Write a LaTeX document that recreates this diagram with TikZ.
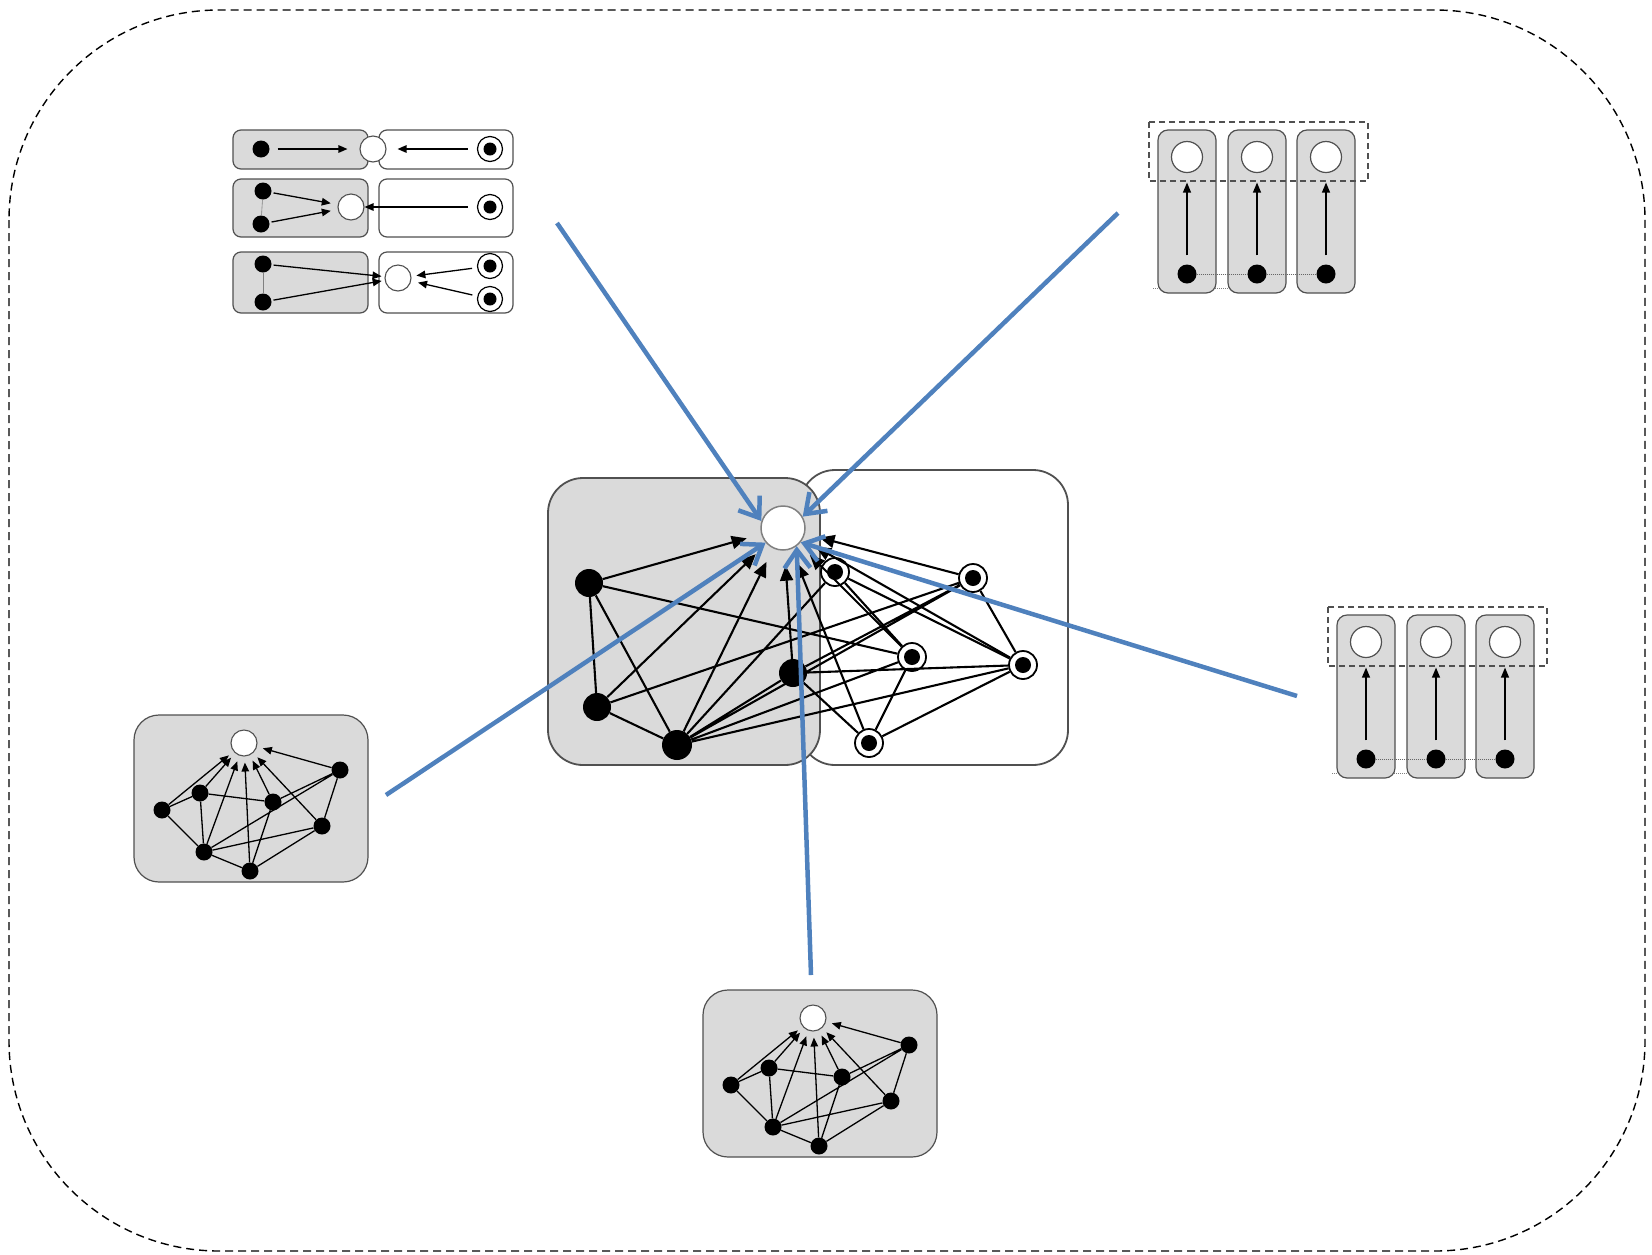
\documentclass[tikz,border=0pt]{standalone}
\usetikzlibrary{arrows.meta}
\definecolor{boxgrey}{RGB}{218,218,218}
\definecolor{edgegrey}{RGB}{80,80,80}
\definecolor{blueline}{RGB}{79,129,189}
\begin{document}
\begin{tikzpicture}[x=1pt,y=-1pt,
  cbox/.style={draw=edgegrey, line width=1.8pt, rounded corners=35pt},
  sbox/.style={draw=edgegrey, line width=1.2pt, rounded corners=8pt},
  bnode/.style={circle, fill=black, inner sep=0pt, minimum size=28pt},
  rnode/.style={circle, draw=black, line width=1.8pt, fill=white, inner sep=0pt, minimum size=28pt,
     path picture={\fill[black] (path picture bounding box.center) circle[radius=8pt];}},
  onode/.style={circle, draw=gray, line width=1.5pt, fill=white, inner sep=0pt, minimum size=44pt},
  cedge/.style={line width=2.1pt, black},
  carrow/.style={cedge, -{Triangle[length=15pt,width=13pt]}, shorten >=15pt},
  sbnode/.style={circle, fill=black, inner sep=0pt, minimum size=17pt},
  sonode/.style={circle, draw=edgegrey, line width=1.1pt, fill=white, inner sep=0pt, minimum size=26pt},
  srnode/.style={circle, draw=black, line width=1.2pt, fill=white, inner sep=0pt, minimum size=25pt,
     path picture={\fill[black] (path picture bounding box.center) circle[radius=6.5pt];}},
  sedge/.style={line width=1.3pt, black},
  sarrow/.style={sedge, -{Triangle[length=9pt,width=7.5pt]}},
  tonode/.style={circle, draw=edgegrey, line width=1.2pt, fill=white, inner sep=0pt, minimum size=31pt},
  tbnode/.style={circle, fill=black, inner sep=0pt, minimum size=19pt},
  tarrow/.style={sedge, -{Triangle[length=10pt,width=8pt]}, shorten >=9.5pt, shorten <=9pt},
  bluearrow/.style={draw=blueline, line width=4.5pt, -{Straight Barb[length=18pt,width=26pt]}},
  smallgraph/.pic={
    \draw[sbox, fill=boxgrey, rounded corners=25pt] (0,0) rectangle (234,167);
    \node[sonode] (-o) at (110,28) {};
    \node[sbnode] (-a) at (28,95) {};
    \node[sbnode] (-b) at (66,78) {};
    \node[sbnode] (-c) at (139,87) {};
    \node[sbnode] (-d) at (206,55) {};
    \node[sbnode] (-e) at (188,111) {};
    \node[sbnode] (-f) at (70,137) {};
    \node[sbnode] (-g) at (116,156) {};
    \draw[sedge] (-a) -- (-b) (-b) -- (-c) (-a) -- (-f) (-b) -- (-f) (-f) -- (-g)
      (-f) -- (-d) (-f) -- (-e) (-c) -- (-d) (-c) -- (-g) (-g) -- (-e) (-d) -- (-e);
    \foreach \n in {a,b,f,g,c,e,d} \draw[sarrow, shorten >=6pt] (-\n) -- (-o);
  },
  chainpic/.pic={
    \draw[gray, densely dotted, line width=1pt] (-5,158) -- (70,158);
    \foreach \bx in {0,70,139} \draw[sbox, fill=boxgrey, rounded corners=10pt] (\bx,0) rectangle ++(58,163);
    \node[tonode] (-o1) at (29,27) {};
    \node[tonode] (-o2) at (99,27) {};
    \node[tonode] (-o3) at (168,27) {};
    \node[tbnode] (-d1) at (29,144) {};
    \node[tbnode] (-d2) at (99,144) {};
    \node[tbnode] (-d3) at (168,144) {};
    \draw[gray!80!black, densely dotted, line width=1pt] (-d1) -- (-d2) (-d2) -- (-d3);
    \foreach \i in {1,2,3} \draw[tarrow] (-d\i) -- (-o\i);
    \draw[edgegrey, dash pattern=on 6pt off 4pt, line width=1.4pt] (-9,-8) rectangle (210,51);
  }
]
\useasboundingbox (0,0) rectangle (1652,1254);
% outer dashed frame
\draw[line width=1.4pt, dash pattern=on 8pt off 5pt, rounded corners=210pt] (9,10) rectangle (1645,1251);

% ---------- top-left diagram ----------
\draw[sbox, fill=boxgrey] (233,130) rectangle (368,169);
\draw[sbox, fill=white] (379,130) rectangle (513,169);
\draw[sbox, fill=boxgrey] (233,179) rectangle (368,237);
\draw[sbox, fill=white] (379,179) rectangle (513,237);
\draw[sbox, fill=boxgrey] (233,252) rectangle (368,313);
\draw[sbox, fill=white] (379,252) rectangle (513,313);
\node[sbnode] (r1d) at (261,149) {};
\node[sonode] (r1o) at (373,149) {};
\node[srnode] (r1r) at (490,149) {};
\node[sbnode] (r2a) at (263,191) {};
\node[sbnode] (r2b) at (261,224) {};
\node[sonode] (r2o) at (351,207) {};
\node[srnode] (r2r) at (490,207) {};
\node[sbnode] (r3a) at (263,264) {};
\node[sbnode] (r3b) at (263,302) {};
\node[sonode] (r3o) at (398,278) {};
\node[srnode] (r3r) at (490,266) {};
\node[srnode] (r3s) at (490,299) {};
\draw[gray, line width=0.6pt] (r2a) -- (r2b);
\draw[gray, line width=0.6pt] (r3a) -- (r3b);
\draw[sarrow, shorten <=8pt, shorten >=12pt] (r1d) -- (r1o);
\draw[sarrow, shorten <=9pt, shorten >=11pt] (r1r) -- (r1o);
\draw[sarrow, shorten <=2pt, shorten >=7pt] (r2a) -- (r2o);
\draw[sarrow, shorten <=2pt, shorten >=7pt] (r2b) -- (r2o);
\draw[sarrow, shorten <=9pt, shorten >=0pt] (r2r) -- (r2o);
\draw[sarrow, shorten <=2pt, shorten >=3pt] (r3a) -- (r3o);
\draw[sarrow, shorten <=2pt, shorten >=3pt] (r3b) -- (r3o);
\draw[sarrow, shorten <=5pt, shorten >=5pt] (r3r) -- (r3o);
\draw[sarrow, shorten <=5pt, shorten >=7pt] (r3s) -- (r3o);

% ---------- chain diagrams ----------
\pic (TR) at (1158,130) {chainpic};
\pic (RR) at (1337,615) {chainpic};

% ---------- small graphs ----------
\pic (LG) at (134,715) {smallgraph};
\pic (BG) at (703,990) {smallgraph};

% ---------- central diagram ----------
\draw[cbox, fill=white] (800,470) rectangle (1068,765);
\draw[cbox, fill=boxgrey] (548,478) rectangle (820,765);
\node[bnode] (A) at (589,583) {};
\node[bnode] (B) at (597,707) {};
\node[bnode, minimum size=30pt] (C) at (677,745) {};
\node[bnode] (D) at (793,673) {};
\node[rnode] (E) at (835,572) {};
\node[rnode] (F) at (973,578) {};
\node[rnode] (G) at (912,657) {};
\node[rnode] (H) at (1023,665) {};
\node[rnode] (I) at (869,743) {};
\node[onode] (X) at (783,528) {};
\draw[cedge] (A) -- (B) (A) -- (C) (B) -- (C) (A) -- (G) (B) -- (F)
  (C) -- (D) (C) -- (E) (C) -- (F) (C) -- (G) (C) -- (H)
  (D) -- (F) (D) -- (H) (D) -- (I)
  (E) -- (G) (E) -- (H) (F) -- (H) (G) -- (I) (I) -- (H);
\foreach \n in {A,B,C,D,I,G,H,F} \draw[carrow] (\n) -- (X);

% ---------- blue arrows ----------
\coordinate (s1) at (557,223);
\coordinate (s2) at (1118,213);
\coordinate (s3) at (386,795);
\coordinate (s4) at (811,975);
\coordinate (s5) at (1297,696);
\draw[bluearrow] (s1) -- (X.162);
\draw[bluearrow] (s2) -- (X.30);
\draw[bluearrow] (s3) -- (X.220);
\draw[bluearrow] (s4) -- (X.307);
\draw[bluearrow] (s5) -- (X.321);
\end{tikzpicture}
\end{document}
